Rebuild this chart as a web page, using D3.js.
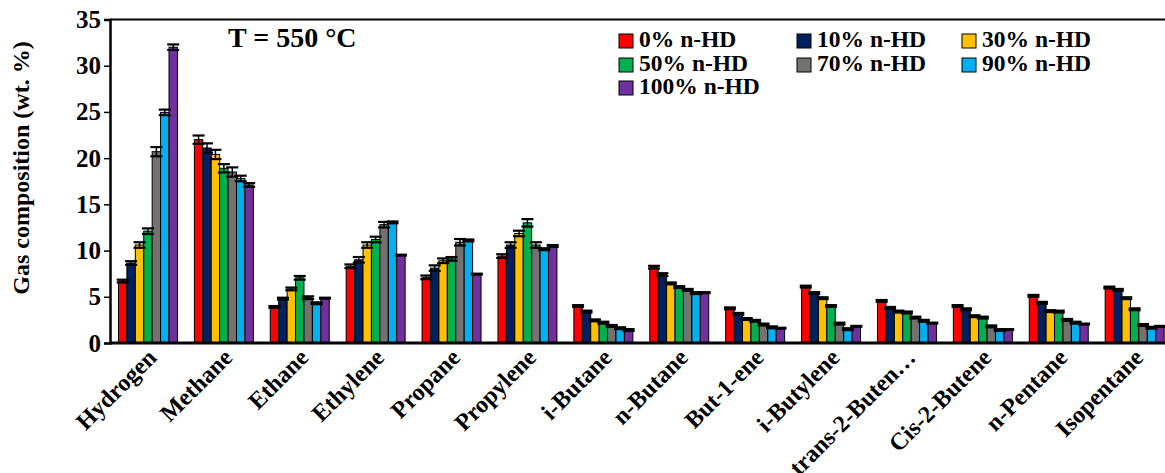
<!DOCTYPE html>
<html>
<head>
<meta charset="utf-8">
<script src="https://cdn.jsdelivr.net/npm/d3@7"></script>
<style>
  body { margin: 0; background: #fff; }
  svg { display: block; font-family: "Liberation Serif", "Times New Roman", serif; font-weight: bold; }
</style>
</head>
<body>
<div id="chart"></div>
<script>
const width = 1165, height = 473;
const margin = {left: 110, top: 19.5, bottom: 130};

// data
const categories = ["Hydrogen", "Methane", "Ethane", "Ethylene", "Propane", "Propylene", "i-Butane",
  "n-Butane", "But-1-ene", "i-Butylene", "trans-2-Buten\u2026", "Cis-2-Butene", "n-Pentane", "Isopentane"];
const seriesNames = ["0% n-HD", "10% n-HD", "30% n-HD", "50% n-HD", "70% n-HD", "90% n-HD", "100% n-HD"];
const colors = ["#ff0000", "#002060", "#ffc000", "#00b050", "#767171", "#00b0f0", "#7030a0"];

const hd0   = [6.7, 22.0, 3.9, 8.3, 7.1, 9.4, 4.0, 8.2, 3.75, 6.1, 4.55, 4.0, 5.1, 6.0];
const hd10  = [8.65, 21.1, 4.8, 9.0, 8.1, 10.6, 3.4, 7.4, 3.15, 5.4, 3.8, 3.65, 4.35, 5.75];
const hd30  = [10.6, 20.4, 5.85, 10.6, 8.9, 11.85, 2.45, 6.45, 2.6, 4.85, 3.4, 2.9, 3.45, 4.85];
const hd50  = [12.1, 18.9, 7.05, 11.2, 9.1, 13.0, 2.2, 6.05, 2.4, 4.0, 3.3, 2.75, 3.4, 3.65];
const hd70  = [20.7, 18.5, 4.9, 12.8, 10.9, 10.6, 1.85, 5.75, 2.0, 2.1, 2.75, 1.8, 2.5, 1.95];
const hd90  = [24.95, 17.8, 4.3, 13.05, 11.1, 10.15, 1.6, 5.4, 1.7, 1.5, 2.4, 1.4, 2.2, 1.65];
const hd100 = [32.0, 17.1, 4.85, 9.5, 7.45, 10.5, 1.4, 5.45, 1.6, 1.8, 2.15, 1.45, 2.05, 1.8];

const err0   = [0.15, 0.45, 0.1, 0.2, 0.2, 0.2, 0.1, 0.15, 0.1, 0.1, 0.1, 0.1, 0.1, 0.1];
const err10  = [0.2, 0.5, 0.1, 0.3, 0.3, 0.3, 0.1, 0.15, 0.1, 0.1, 0.1, 0.1, 0.1, 0.1];
const err30  = [0.3, 0.5, 0.15, 0.3, 0.25, 0.3, 0.1, 0.1, 0.1, 0.1, 0.1, 0.1, 0.1, 0.1];
const err50  = [0.3, 0.45, 0.2, 0.3, 0.2, 0.4, 0.1, 0.1, 0.1, 0.1, 0.1, 0.1, 0.1, 0.1];
const err70  = [0.5, 0.5, 0.15, 0.3, 0.35, 0.3, 0.1, 0.1, 0.1, 0.1, 0.1, 0.1, 0.1, 0.1];
const err90  = [0.3, 0.3, 0.1, 0.1, 0.1, 0.1, 0.1, 0.1, 0.1, 0.1, 0.1, 0.1, 0.1, 0.1];
const err100 = [0.3, 0.2, 0.05, 0.05, 0.05, 0.1, 0.1, 0.05, 0.05, 0.05, 0.05, 0.05, 0.05, 0.05];

const yTicks = [0, 5, 10, 15, 20, 25, 30, 35];
const values = [hd0, hd10, hd30, hd50, hd70, hd90, hd100];
const errors = [err0, err10, err30, err50, err70, err90, err100];

const svg = d3.select("#chart").append("svg")
  .attr("width", width)
  .attr("height", height);

const plotRight = margin.left + 14 * 75.9;
const x = d3.scaleBand()
  .domain(categories)
  .range([margin.left, plotRight])
  .paddingInner(0.223)
  .paddingOuter(0.1115);
const xs = d3.scaleBand()
  .domain(seriesNames)
  .range([0, x.bandwidth()]);
const y = d3.scaleLinear()
  .domain([0, 35])
  .range([343, margin.top]);

// bars
const rows = [];
categories.forEach((c, i) => {
  seriesNames.forEach((s, j) => {
    rows.push({cat: c, ser: s, j: j, v: values[j][i], e: errors[j][i]});
  });
});

svg.append("g").selectAll("rect")
  .data(rows)
  .join("rect")
    .attr("x", d => x(d.cat) + xs(d.ser))
    .attr("y", d => y(d.v))
    .attr("width", xs.bandwidth())
    .attr("height", d => y(0) - y(d.v))
    .attr("fill", d => colors[d.j])
    .attr("stroke", "#000")
    .attr("stroke-width", 1);

// error bars
const eb = svg.append("g").attr("stroke", "#000").attr("stroke-width", 2.2);
const cap = 6;
const cx = d => x(d.cat) + xs(d.ser) + xs.bandwidth() / 2;
eb.selectAll("line.v")
  .data(rows)
  .join("line")
    .attr("class", "v")
    .attr("x1", cx)
    .attr("x2", cx)
    .attr("y1", d => y(d.v - d.e))
    .attr("y2", d => y(d.v + d.e))
    .attr("stroke-width", 1.5);
[-1, 1].forEach(sgn => {
  eb.selectAll("line.c" + (sgn + 1))
    .data(rows)
    .join("line")
      .attr("class", "c" + (sgn + 1))
      .attr("x1", d => cx(d) - cap)
      .attr("x2", d => cx(d) + cap)
      .attr("y1", d => y(d.v + sgn * d.e))
      .attr("y2", d => y(d.v + sgn * d.e));
});

// frame (top line, right side runs off the picture)
svg.append("path")
  .attr("d", `M${margin.left},${margin.top}H${plotRight}V${y(0)}`)
  .attr("fill", "none")
  .attr("stroke", "#000")
  .attr("stroke-width", 2);

// axes
const yAxis = svg.append("g")
  .attr("transform", `translate(${margin.left},0)`)
  .call(d3.axisLeft(y).tickValues(yTicks).tickSize(6).tickPadding(3));
yAxis.select(".domain").attr("stroke-width", 2.5);
yAxis.selectAll(".tick line").attr("stroke-width", 1.5);
yAxis.selectAll("text")
  .style("font-size", "25px")
  .style("font-family", "Liberation Serif, serif")
  .style("font-weight", "bold")
  .attr("fill", "#000");

const xAxis = svg.append("g")
  .attr("transform", `translate(0,${y(0)})`)
  .call(d3.axisBottom(x).tickSize(0).tickPadding(0));
xAxis.select(".domain").attr("stroke-width", 3).attr("d", `M${margin.left},0H${plotRight}`);
xAxis.selectAll("text")
  .style("font-size", "24px")
  .style("font-family", "Liberation Serif, serif")
  .style("font-weight", "bold")
  .attr("fill", "#000")
  .attr("text-anchor", "end")
  .attr("dy", null)
  .attr("y", 0)
  .attr("transform", "translate(10,16) rotate(-45)");

// y axis title
svg.append("text")
  .attr("transform", "translate(29,168) rotate(-90)")
  .attr("text-anchor", "middle")
  .style("font-size", "24px")
  .text("Gas composition (wt. %)");

// temperature label
svg.append("text")
  .attr("x", 228)
  .attr("y", 47)
  .style("font-size", "28px")
  .text("T = 550 \u00b0C");

// legend
const legCols = [619, 797, 962];
const legRows = [47, 71, 94];
const leg = svg.append("g").selectAll("g")
  .data(seriesNames)
  .join("g")
    .attr("transform", (d, i) => `translate(${legCols[i % 3]},${legRows[Math.floor(i / 3)]})`);
leg.append("rect")
  .attr("x", 0).attr("y", -13)
  .attr("width", 14).attr("height", 14)
  .attr("fill", (d, i) => colors[i])
  .attr("stroke", "#000")
  .attr("stroke-width", 1);
leg.append("text")
  .attr("x", 20)
  .attr("y", 0)
  .style("font-size", "23.5px")
  .text(d => d);
</script>
</body>
</html>
